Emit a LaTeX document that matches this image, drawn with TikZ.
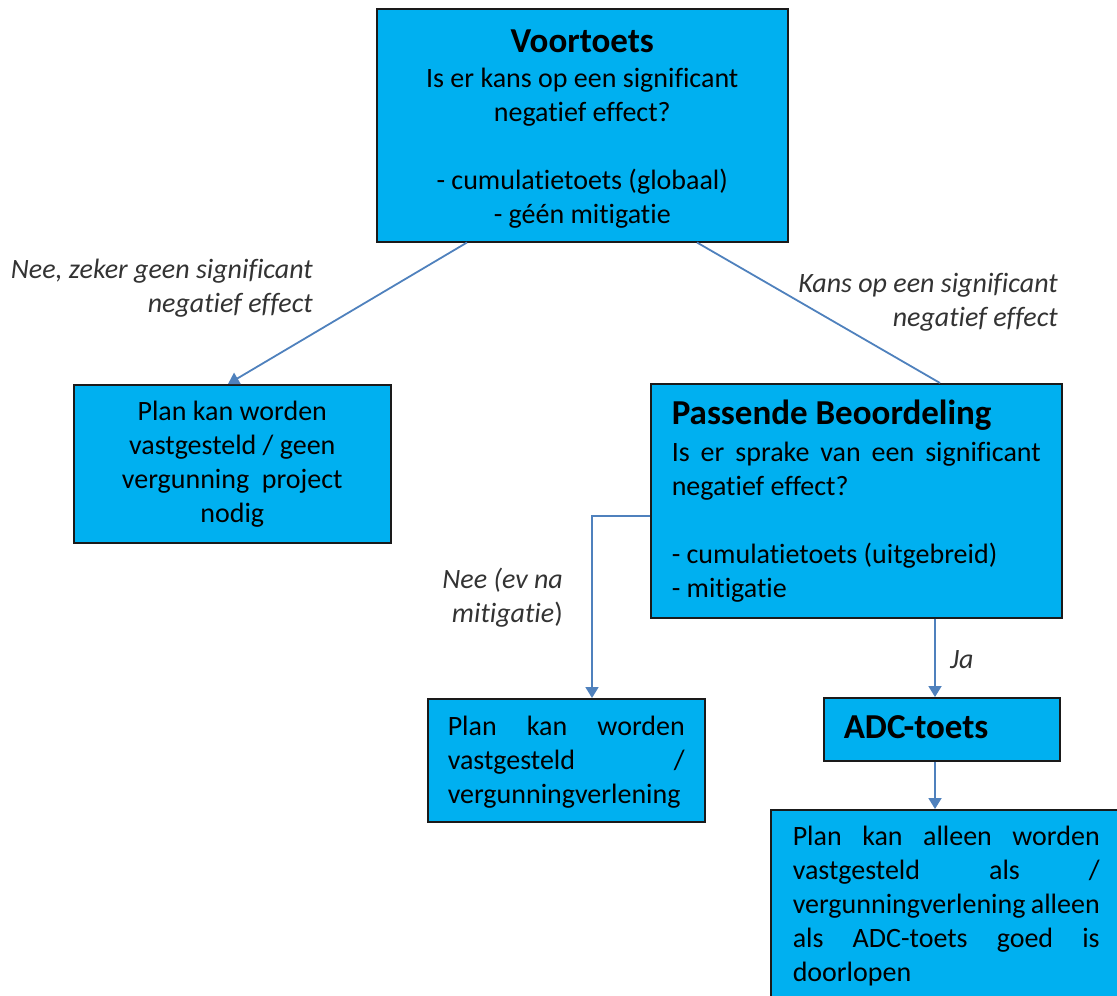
\documentclass[tikz,border=0pt]{standalone}
\usepackage{fontspec}
\setmainfont{Carlito}[Ligatures=NoCommon]
\usetikzlibrary{arrows.meta}
\definecolor{boxfill}{HTML}{00B0F0}
\definecolor{boxline}{HTML}{1A1A1A}
\definecolor{conncol}{HTML}{4F81BD}
\definecolor{lblcol}{HTML}{333333}
\newcommand\fls{\rule{0pt}{24pt}}
\newcommand\tls{\rule{0pt}{28pt}}
\newcommand\ttl{\fontsize{35}{34}\selectfont\bfseries}
\newcommand\bdy{\fontsize{28}{34}\selectfont}
\newcommand\jline[1]{\makebox[\linewidth][s]{#1}}
\begin{document}
\begin{tikzpicture}[x=1pt,y=-1pt,
  box/.style={draw=boxline, fill=boxfill, line width=1.5pt, inner ysep=0pt, anchor=north west, font=\bdy},
  lbl/.style={font=\bdy\itshape, text=lblcol, inner sep=0pt},
  conn/.style={draw=conncol, line width=1.8pt},
  arr/.style={conn, -{Triangle[width=13pt,length=11pt]}}]
\useasboundingbox (0,0) rectangle (1117,996);

\node[box, inner xsep=10pt] (voor) at (376,8)
  {\parbox[t][233pt][t]{391pt}{\bdy\centering\vspace*{16pt}\tls{\ttl Voortoets}\\[1pt]
   Is er kans op een significant\\ negatief effect?\\[34pt]
   - cumulatietoets (globaal)\\ - géén mitigatie}};

\node[box, inner xsep=10pt] (plan1) at (73,384)
  {\parbox[t][158pt][t]{297pt}{\bdy\centering\vspace*{12pt}\fls Plan kan worden\\
   vastgesteld / geen\\ vergunning\ \ project\\ nodig}};

\node[box, inner xsep=21pt] (pb) at (650,383)
  {\parbox[t][234pt][t]{369pt}{\bdy\raggedright\vspace*{13pt}\tls{\ttl Passende Beoordeling}\\[3pt]
   \jline{Is er sprake van een significant}\\ negatief effect?\\[34pt]
   - cumulatietoets (uitgebreid)\\ - mitigatie}};

\node[box, inner xsep=20pt] (mid) at (427,698)
  {\parbox[t][123pt][t]{237pt}{\bdy\raggedright\vspace*{13pt}\fls\jline{Plan kan worden}\\
   \jline{vastgesteld /}\\ vergunningverlening}};

\node[box, inner xsep=20pt] (adc) at (823,697)
  {\parbox[t][63pt][t]{196pt}{\bdy\raggedright\vspace*{13pt}\tls{\ttl ADC-toets}}};

\node[box, inner xsep=22pt] (final) at (770,809)
  {\parbox[t][200pt][t]{307pt}{\bdy\raggedright\vspace*{12pt}\fls\jline{Plan kan alleen worden}\\
   \jline{vastgesteld als /}\\ \jline{vergunningverlening alleen}\\
   \jline{als ADC-toets goed is}\\ doorlopen}};

\node[lbl, anchor=north east, align=right] (l1) at (313,254)
  {\fls Nee, zeker geen significant\\ negatief effect};
\node[lbl, anchor=north east, align=right] (l2) at (1058,268)
  {\fls Kans op een significant\\ negatief effect};
\node[lbl, anchor=north east, align=right] (l3) at (563,564)
  {\fls Nee (ev na\\ mitigatie\/{\upshape )}};
\node[lbl, anchor=base west] (ja) at (950,668) {Ja};

\draw[arr] ([xshift=91pt]voor.south west) -- ([xshift=155pt]plan1.north west);
\draw[conn] ([xshift=321pt]voor.south west) -- ([xshift=290pt]pb.north west);
\draw[arr] ([yshift=-15pt]pb.west) -| ([xshift=165pt]mid.north west);
\draw[arr] ([xshift=285pt]pb.south west) -- ([xshift=112pt]adc.north west);
\draw[arr] ([xshift=112pt]adc.south west) -- ([xshift=165pt]final.north west);
\end{tikzpicture}
\end{document}
